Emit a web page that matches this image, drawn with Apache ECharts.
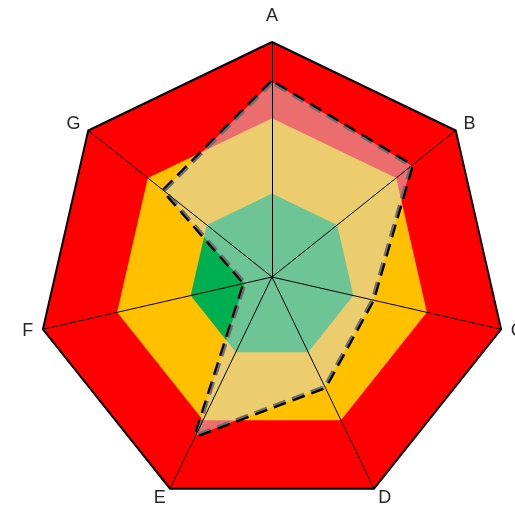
<!DOCTYPE html>
<html>
<head>
<meta charset="utf-8">
<script src="https://cdn.jsdelivr.net/npm/echarts@6/dist/echarts.min.js"></script>
<style>
  html, body { margin: 0; padding: 0; background: #fff; }
  #main { width: 515px; height: 508px; }
</style>
</head>
<body>
<div id="main"></div>
<script>
// axes in clockwise order, starting at the top
const axes = ['A', 'B', 'C', 'D', 'E', 'F', 'G'];
// dashed series
const score = [8.3, 7.6, 4.4, 5.2, 7.5, 1.2, 5.9];
// background bands
const bandRed = [10, 10, 10, 10, 10, 10, 10];
const bandOrange = [6.76, 6.76, 6.76, 6.76, 6.76, 6.76, 6.76];
const bandGreen = [3.55, 3.55, 3.55, 3.55, 3.55, 3.55, 3.55];

// echarts lays indicators out counter-clockwise, so flip everything after the first
const order = [0].concat(axes.map((_, i) => i).slice(1).reverse());
const pick = arr => order.map(i => arr[i]);

let myChart = echarts.init(document.getElementById('main'));
myChart.setOption({
    backgroundColor: '#ffffff',
    animation: false,
    radar: {
        z: 2,
        center: [272, 277],
        radius: 235,
        startAngle: 90,
        splitNumber: 1,
        shape: 'polygon',
        indicator: pick(axes).map(name => ({ name: name, max: 10, min: 0 })),
        nameGap: 10,
        axisName: {
            color: '#262626',
            fontSize: 18,
            fontFamily: 'Liberation Sans',
            formatter: n => n === 'A' ? '{top|A}' : n,
            rich: {
                top: { padding: [0, 0, 7, 0], fontSize: 18, color: '#262626', fontFamily: 'Liberation Sans' }
            }
        },
        axisLine: { lineStyle: { color: '#000', width: 1 } },
        splitLine: { lineStyle: { color: '#000', width: 2 } },
        splitArea: { show: false },
        axisTick: { show: false },
        axisLabel: { show: false }
    },
    series: [{
        type: 'radar',
        z: 1,
        symbol: 'none',
        silent: true,
        lineStyle: { width: 0, opacity: 0 },
        data: [
            { value: pick(bandRed), areaStyle: { color: '#ff0000', opacity: 1 } },
            { value: pick(bandOrange), areaStyle: { color: '#ffc000', opacity: 1 } },
            { value: pick(bandGreen), areaStyle: { color: '#00b050', opacity: 1 } }
        ]
    }, {
        type: 'radar',
        z: 1,
        symbol: 'none',
        silent: true,
        lineStyle: { color: '#000', width: 4.5, type: [13, 7], opacity: 1 },
        areaStyle: { color: 'rgba(217,217,217,0.5)', opacity: 1 },
        data: [{ value: pick(score) }]
    }]
});
</script>
</body>
</html>
